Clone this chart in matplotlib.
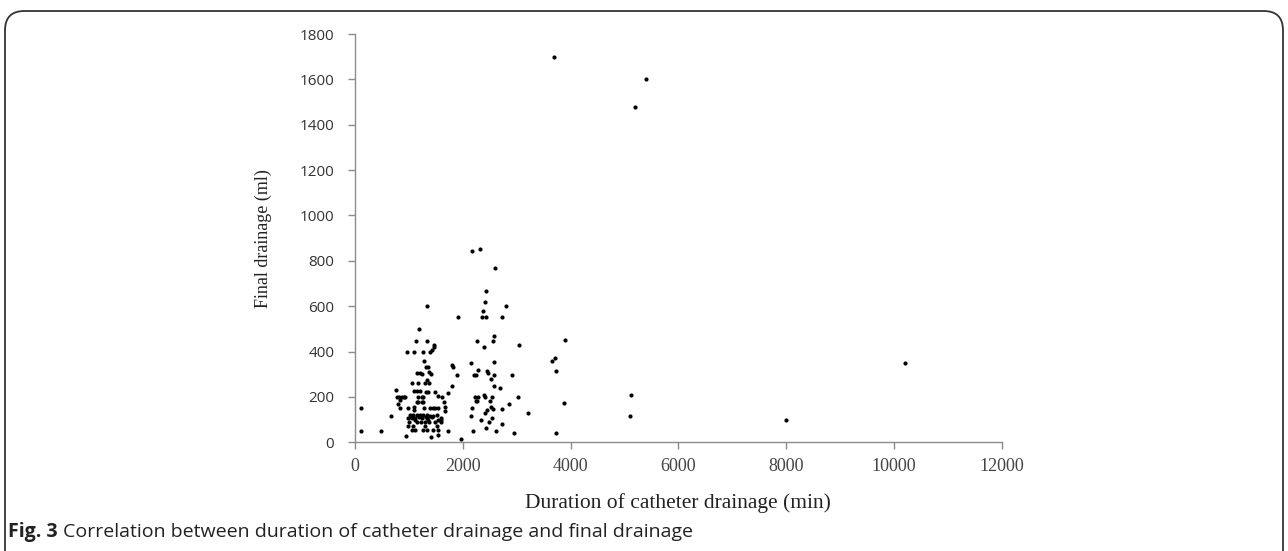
import matplotlib
matplotlib.use("Agg")
import matplotlib.pyplot as plt
from matplotlib.patches import FancyBboxPatch

# Duration of catheter drainage (min) and final drainage (ml)
outlier_x = [3700, 5400, 5200, 3900, 3660, 3710, 3730, 3880, 3730, 5130, 5100, 8000, 10200]
outlier_y = [1700, 1600, 1480, 450, 360, 370, 315, 172, 40, 210, 117, 100, 350]

left_x = [110, 110, 480, 660, 760]
left_y = [150, 50, 50, 117, 231]

cluster2_x = [2180, 2325, 2600, 2424, 2412, 2370, 2808, 1917, 2356, 2424, 2721, 2585,
              2560, 2257, 3037, 2393, 2146, 2579, 1794, 1812, 1898, 2208, 2239, 2443,
              2462, 2585, 2918, 2282, 2517, 1805, 2585, 2696, 1731, 1608, 3030, 2226,
              2282, 2399, 2418, 2548, 2239, 2263, 2505, 1664, 1664, 2177, 2517, 2555,
              2449, 2727, 2863, 2412, 3204, 2158, 2548, 2338, 1590, 1590, 2486, 2721,
              2424, 1719, 2183, 2616, 2950, 1967]
cluster2_y = [845, 851, 768, 666, 619, 580, 600, 552, 552, 552, 552, 469,
              448, 448, 429, 419, 350, 353, 341, 331, 298, 298, 298, 313,
              307, 298, 298, 317, 278, 248, 248, 238, 219, 200, 198, 200,
              200, 209, 200, 200, 181, 181, 181, 156, 137, 153, 156, 145,
              142, 147, 170, 128, 128, 115, 109, 98, 98, 88, 88, 79,
              62, 50, 50, 50, 42, 15]

cluster1_x = [1336, 1193, 1132, 1336, 1460, 1460, 971, 1101, 1262, 1391, 1434, 1274,
              1323, 1348, 1156, 1206, 1237, 1379, 1410, 1336, 1063, 1174, 1293, 1367,
              1089, 1150, 1206, 1317, 1354, 1490, 1534, 811, 904, 933, 1174, 1237,
              1267, 1150, 1174, 1237, 1267, 792, 835, 989, 1095, 1095, 1280, 1391,
              1441, 1484, 1534, 1020, 1082, 1144, 1206, 1268, 1330, 1391, 1453, 1515,
              989, 1063, 1113, 1330, 1534, 1596, 1007, 1144, 1224, 1299, 1373, 1484,
              989, 1082, 1299, 1515, 1052, 1113, 1268, 1330, 1453, 1546, 946, 1404,
              1546, 1040, 1180, 1250, 1310, 1420, 1120, 1360, 786, 879, 835, 1657]
cluster1_y = [600, 501, 448, 448, 429, 419, 400, 400, 400, 400, 407, 360,
              331, 331, 305, 307, 300, 310, 300, 275, 260, 260, 260, 260,
              226, 226, 226, 223, 223, 220, 205, 201, 201, 201, 198, 198,
              198, 179, 179, 179, 179, 168, 150, 153, 155, 142, 150, 150,
              150, 150, 150, 119, 119, 119, 119, 119, 119, 117, 117, 119,
              105, 105, 105, 105, 100, 108, 91, 91, 91, 91, 91, 91,
              72, 72, 72, 72, 56, 56, 56, 56, 56, 56, 29, 25,
              32, 110, 112, 108, 112, 110, 100, 98, 200, 200, 185, 179]

duration = outlier_x + left_x + cluster2_x + cluster1_x
volume = outlier_y + left_y + cluster2_y + cluster1_y

x_ticks = [0, 2000, 4000, 6000, 8000, 10000, 12000]
y_ticks = [0, 200, 400, 600, 800, 1000, 1200, 1400, 1600, 1800]

W, H = 1288, 551
fig = plt.figure(figsize=(W / 100, H / 100), dpi=100)
fig.patch.set_facecolor("white")

# rounded frame
frame = FancyBboxPatch((5 / W, -0.1), (W - 10) / W, (H - 10) / H + 0.1 - 1 / H,
                       boxstyle="round,pad=0,rounding_size=0.015",
                       transform=fig.transFigure, fill=False,
                       edgecolor="#333333", linewidth=1.3, mutation_aspect=W / H)
fig.patches.append(frame)

left, right = 355 / W, 1001.7 / W
bottom, top = 1 - 442.3 / H, 1 - 34 / H
ax = fig.add_axes([left, bottom, right - left, top - bottom])

ax.scatter(duration, volume, s=9, color="black", linewidths=0, zorder=3)

ax.set_xlim(0, 12000)
ax.set_ylim(0, 1800)
ax.set_xticks(x_ticks)
ax.set_yticks(y_ticks)
ax.set_xticklabels([str(v) for v in x_ticks], fontfamily="Liberation Serif",
                   fontsize=13, color="#444444")
ax.set_yticklabels([str(v) for v in y_ticks], fontfamily="Open Sans",
                   fontsize=11, color="#333333")

for s in ["top", "right"]:
    ax.spines[s].set_visible(False)
for s in ["left", "bottom"]:
    ax.spines[s].set_color("#8c8c8c")
    ax.spines[s].set_linewidth(1.0)
ax.tick_params(axis="both", direction="out", length=5, width=1.0, color="#8c8c8c")
ax.tick_params(axis="x", pad=6)
ax.tick_params(axis="y", pad=10)

ax.set_xlabel("Duration of catheter drainage (min)", fontfamily="Liberation Serif",
              fontsize=15.5, color="#222222")
ax.xaxis.set_label_coords(0.5, -0.124)
ax.set_ylabel("Final drainage (ml)", fontfamily="Liberation Serif",
              fontsize=13, color="#222222")
ax.yaxis.set_label_coords(-0.128, 0.5)

# caption
t1 = fig.text(8 / W, 1 - 532 / H, "Fig. 3", fontfamily="Open Sans", fontweight="bold",
              fontsize=14, va="center", ha="left", color="#222222")
fig.canvas.draw()
bb = t1.get_window_extent()
fig.text((bb.x1 + 5) / W, 1 - 532 / H,
         "Correlation between duration of catheter drainage and final drainage",
         fontfamily="Open Sans", fontsize=14, va="center", ha="left", color="#222222")

fig.savefig("out.png", dpi=100)
